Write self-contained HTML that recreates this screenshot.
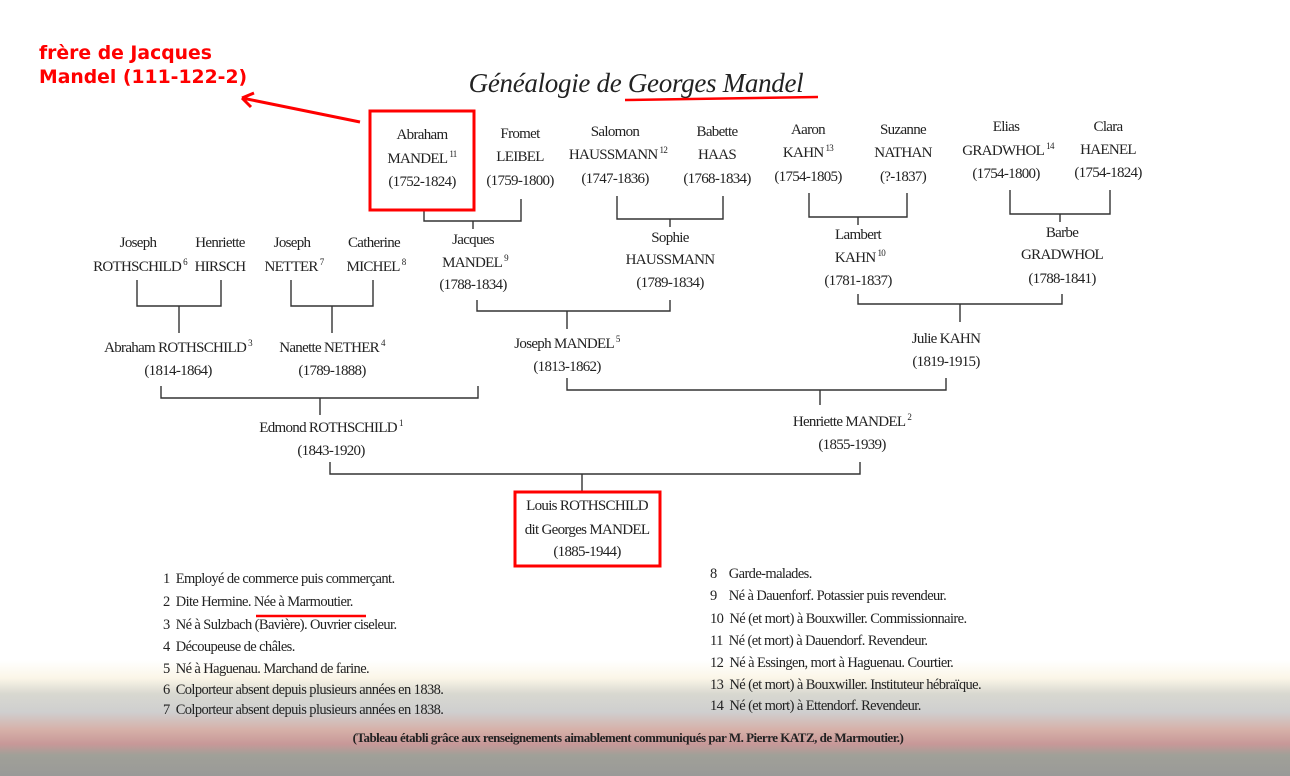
<!DOCTYPE html>
<html><head><meta charset="utf-8"><style>
body{margin:0;width:1290px;height:776px;position:relative;overflow:hidden;background:#fff;font-family:"Liberation Serif",serif;color:#222}
.bg{position:absolute;left:0;top:660px;width:1290px;height:116px;background:linear-gradient(to bottom,#fff 0px,#fbf6e8 18px,#d8d8d0 34px,#cfcfcf 52px,#d6b0a8 70px,#c89898 84px,#a0a098 95px,#9a9a98 116px)}
.t{position:absolute;transform:translateX(-50%);white-space:nowrap;font-size:15px;letter-spacing:-0.7px;line-height:1;text-align:center}
.t sup{font-size:9px;vertical-align:baseline;position:relative;top:-6px;margin-left:2px}
.n{position:absolute;white-space:nowrap;font-size:14.5px;letter-spacing:-0.6px;line-height:1}
.r{position:absolute;font-family:"DejaVu Sans",sans-serif;font-weight:bold;color:#f00;font-size:18.8px;line-height:24px}
</style></head><body>
<div class="bg"></div>
<div class="r" style="left:39px;top:42px">frère de Jacques<br>Mandel (111-122-2)</div>
<div class="t" style="left:636px;top:70px;font-size:27px;font-style:italic;letter-spacing:-0.3px">Généalogie de Georges Mandel</div>
<svg width="1290" height="776" style="position:absolute;left:0;top:0">
<g stroke="#333" stroke-width="1.4" fill="none">
<path d="M424 210V221H521V199M473 221V229"/>
<path d="M617 196V219H723V196M670 219V227"/>
<path d="M809 193V217H907V193M858 217V225"/>
<path d="M1010 190V214H1110V190M1060 214V222"/>
<path d="M137 280V306H221V280M179 306V333"/>
<path d="M291 280V306H373V280M332 306V333"/>
<path d="M477 300V311H670V300M567 311V329"/>
<path d="M858 294V304H1062V294M960 304V322"/>
<path d="M161 386V398H478V386M320 398V415"/>
<path d="M567 378V390H946V378M820 390V405"/>
<path d="M330 462V474H860V462M582 474V492"/>
</g>
<g stroke="#f00" fill="none">
<rect x="370" y="111" width="104" height="99" stroke-width="3"/>
<rect x="515" y="492" width="145" height="74" stroke-width="3"/>
<path d="M625 100L818 97" stroke-width="2.5"/>
<path d="M256 616H366" stroke-width="2.5"/>
<path d="M360 122L242 98M242 98L254 93M242 98L251 107" stroke-width="3"/>
</g>
</svg>
<div class="t" style="left:422px;top:128px">Abraham</div>
<div class="t" style="left:422px;top:152px">MANDEL<sup>11</sup></div>
<div class="t" style="left:422px;top:175px">(1752-1824)</div>
<div class="t" style="left:520px;top:127px">Fromet</div>
<div class="t" style="left:520px;top:150px">LEIBEL</div>
<div class="t" style="left:520px;top:174px">(1759-1800)</div>
<div class="t" style="left:615px;top:125px">Salomon</div>
<div class="t" style="left:618px;top:148px">HAUSSMANN<sup>12</sup></div>
<div class="t" style="left:615px;top:172px">(1747-1836)</div>
<div class="t" style="left:717px;top:125px">Babette</div>
<div class="t" style="left:717px;top:148px">HAAS</div>
<div class="t" style="left:717px;top:172px">(1768-1834)</div>
<div class="t" style="left:808px;top:123px">Aaron</div>
<div class="t" style="left:808px;top:146px">KAHN<sup>13</sup></div>
<div class="t" style="left:808px;top:170px">(1754-1805)</div>
<div class="t" style="left:903px;top:123px">Suzanne</div>
<div class="t" style="left:903px;top:146px">NATHAN</div>
<div class="t" style="left:903px;top:170px">(?-1837)</div>
<div class="t" style="left:1006px;top:120px">Elias</div>
<div class="t" style="left:1008px;top:144px">GRADWHOL<sup>14</sup></div>
<div class="t" style="left:1006px;top:167px">(1754-1800)</div>
<div class="t" style="left:1108px;top:120px">Clara</div>
<div class="t" style="left:1108px;top:143px">HAENEL</div>
<div class="t" style="left:1108px;top:166px">(1754-1824)</div>
<div class="t" style="left:138px;top:236px">Joseph</div>
<div class="t" style="left:140px;top:260px">ROTHSCHILD<sup>6</sup></div>
<div class="t" style="left:220px;top:236px">Henriette</div>
<div class="t" style="left:220px;top:260px">HIRSCH</div>
<div class="t" style="left:292px;top:236px">Joseph</div>
<div class="t" style="left:294px;top:260px">NETTER<sup>7</sup></div>
<div class="t" style="left:374px;top:236px">Catherine</div>
<div class="t" style="left:376px;top:260px">MICHEL<sup>8</sup></div>
<div class="t" style="left:473px;top:233px">Jacques</div>
<div class="t" style="left:475px;top:256px">MANDEL<sup>9</sup></div>
<div class="t" style="left:473px;top:278px">(1788-1834)</div>
<div class="t" style="left:670px;top:231px">Sophie</div>
<div class="t" style="left:670px;top:253px">HAUSSMANN</div>
<div class="t" style="left:670px;top:276px">(1789-1834)</div>
<div class="t" style="left:858px;top:228px">Lambert</div>
<div class="t" style="left:860px;top:251px">KAHN<sup>10</sup></div>
<div class="t" style="left:858px;top:274px">(1781-1837)</div>
<div class="t" style="left:1062px;top:226px">Barbe</div>
<div class="t" style="left:1062px;top:248px">GRADWHOL</div>
<div class="t" style="left:1062px;top:272px">(1788-1841)</div>
<div class="t" style="left:178px;top:341px">Abraham ROTHSCHILD<sup>3</sup></div>
<div class="t" style="left:178px;top:364px">(1814-1864)</div>
<div class="t" style="left:332px;top:341px">Nanette NETHER<sup>4</sup></div>
<div class="t" style="left:332px;top:364px">(1789-1888)</div>
<div class="t" style="left:567px;top:337px">Joseph MANDEL<sup>5</sup></div>
<div class="t" style="left:567px;top:360px">(1813-1862)</div>
<div class="t" style="left:946px;top:332px">Julie KAHN</div>
<div class="t" style="left:946px;top:355px">(1819-1915)</div>
<div class="t" style="left:331px;top:421px">Edmond ROTHSCHILD<sup>1</sup></div>
<div class="t" style="left:331px;top:444px">(1843-1920)</div>
<div class="t" style="left:852px;top:415px">Henriette MANDEL<sup>2</sup></div>
<div class="t" style="left:852px;top:438px">(1855-1939)</div>
<div class="t" style="left:587px;top:499px">Louis ROTHSCHILD</div>
<div class="t" style="left:587px;top:523px">dit Georges MANDEL</div>
<div class="t" style="left:587px;top:545px">(1885-1944)</div>
<div class="n" style="left:163px;top:572px">1&nbsp;&nbsp;Employé de commerce puis commerçant.</div>
<div class="n" style="left:163px;top:595px">2&nbsp;&nbsp;Dite Hermine. Née à Marmoutier.</div>
<div class="n" style="left:163px;top:618px">3&nbsp;&nbsp;Né à Sulzbach (Bavière). Ouvrier ciseleur.</div>
<div class="n" style="left:163px;top:640px">4&nbsp;&nbsp;Découpeuse de châles.</div>
<div class="n" style="left:163px;top:662px">5&nbsp;&nbsp;Né à Haguenau. Marchand de farine.</div>
<div class="n" style="left:163px;top:683px">6&nbsp;&nbsp;Colporteur absent depuis plusieurs années en 1838.</div>
<div class="n" style="left:163px;top:703px">7&nbsp;&nbsp;Colporteur absent depuis plusieurs années en 1838.</div>
<div class="n" style="left:710px;top:567px">8&nbsp;&nbsp;&nbsp;&nbsp;Garde-malades.</div>
<div class="n" style="left:710px;top:589px">9&nbsp;&nbsp;&nbsp;&nbsp;Né à Dauenforf. Potassier puis revendeur.</div>
<div class="n" style="left:710px;top:612px">10&nbsp;&nbsp;Né (et mort) à Bouxwiller. Commissionnaire.</div>
<div class="n" style="left:710px;top:634px">11&nbsp;&nbsp;Né (et mort) à Dauendorf. Revendeur.</div>
<div class="n" style="left:710px;top:656px">12&nbsp;&nbsp;Né à Essingen, mort à Haguenau. Courtier.</div>
<div class="n" style="left:710px;top:678px">13&nbsp;&nbsp;Né (et mort) à Bouxwiller. Instituteur hébraïque.</div>
<div class="n" style="left:710px;top:699px">14&nbsp;&nbsp;Né (et mort) à Ettendorf. Revendeur.</div>
<div class="t" style="left:628px;top:731px;font-size:13px;letter-spacing:-0.5px;font-weight:bold">(Tableau établi grâce aux renseignements aimablement communiqués par M. Pierre KATZ, de Marmoutier.)</div>
</body></html>
